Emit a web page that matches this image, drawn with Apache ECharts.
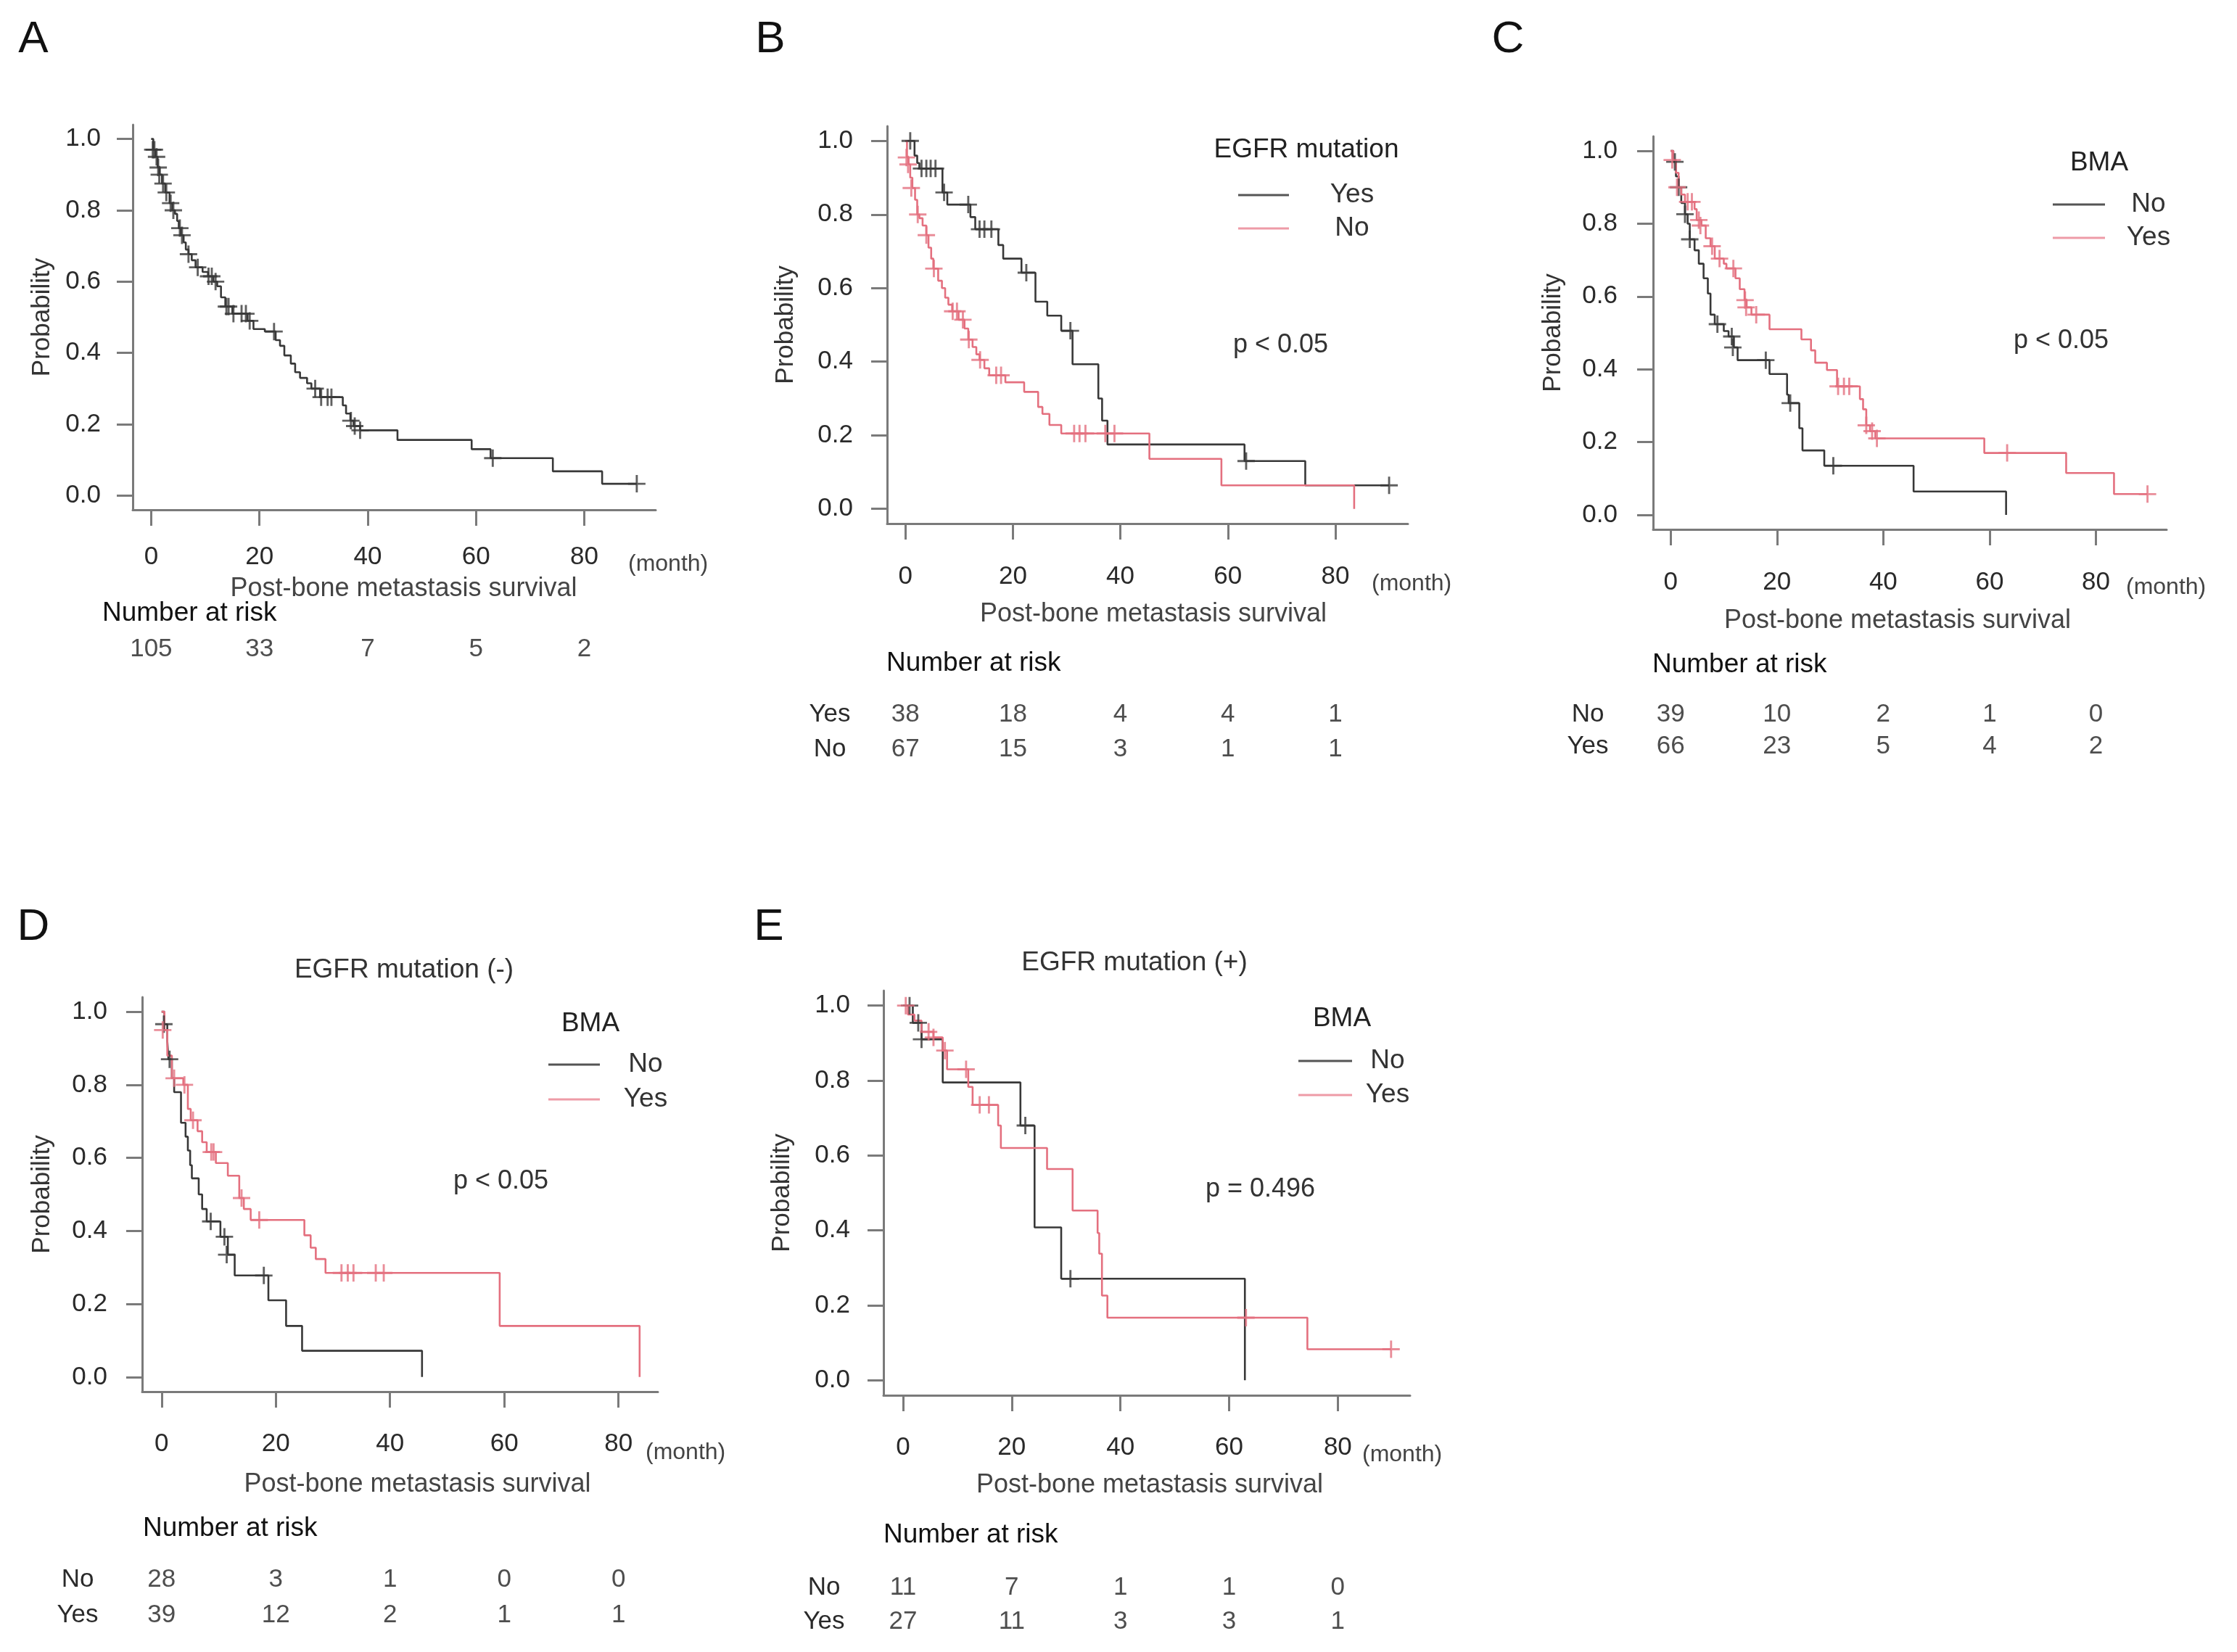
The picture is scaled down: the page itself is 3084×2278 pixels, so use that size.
<!DOCTYPE html>
<html><head><meta charset="utf-8">
<script src="https://cdn.jsdelivr.net/npm/echarts@6/dist/echarts.min.js"></script>
<style>html,body{margin:0;padding:0;background:#fff}#c{width:3084px;height:2278px}</style>
</head><body><div id="c"></div>
<script>
// ---------------- DATA ----------------
const xTicks = [0, 20, 40, 60, 80];
const yTicks = [0, 0.2, 0.4, 0.6, 0.8, 1.0];

// Panel A: all patients  [time (month), survival probability]
const aCurve = [[0,1],[0.4,0.97],[0.8,0.95],[1.2,0.92],[1.6,0.90],[2.0,0.875],[2.6,0.85],[3.4,0.82],[3.9,0.80],[4.4,0.79],[4.8,0.77],[5.1,0.75],[5.5,0.73],[6.0,0.71],[6.4,0.69],[6.9,0.677],[7.5,0.66],[8.2,0.64],[9.5,0.627],[10.5,0.615],[11.5,0.60],[12.2,0.587],[12.9,0.556],[13.7,0.53],[15.0,0.51],[17.8,0.49],[18.9,0.467],[21.0,0.46],[23.0,0.436],[23.8,0.42],[24.6,0.393],[25.8,0.37],[26.6,0.346],[27.5,0.33],[28.8,0.315],[29.6,0.30],[31.2,0.276],[35.4,0.253],[36.0,0.23],[36.8,0.21],[37.4,0.195],[38.6,0.183],[45.5,0.156],[59.2,0.13],[62.7,0.105],[74.2,0.068],[83.3,0.033],[89.7,0.033]];
const aCens = [[0.3,0.97],[0.6,0.97],[1.0,0.95],[1.3,0.92],[1.5,0.90],[2.2,0.875],[2.8,0.85],[3.6,0.82],[4.1,0.80],[5.3,0.75],[5.7,0.73],[6.9,0.677],[8.6,0.64],[10.6,0.615],[11.2,0.615],[11.9,0.60],[13.9,0.53],[14.3,0.53],[15.2,0.51],[16.7,0.51],[17.5,0.51],[18.2,0.49],[22.7,0.46],[30.3,0.30],[31.4,0.276],[32.6,0.276],[33.3,0.276],[36.9,0.21],[37.6,0.195],[38.6,0.183],[63.1,0.105],[89.7,0.033]];
const riskA = [105, 33, 7, 5, 2];

// Panel B: EGFR mutation Yes / No
const bYes = [[0,1],[1.7,0.96],[2.2,0.94],[2.6,0.925],[6.9,0.86],[7.8,0.827],[12.1,0.793],[13.0,0.76],[17.3,0.717],[18.2,0.68],[21.6,0.642],[24.2,0.563],[26.4,0.525],[29.0,0.484],[31.1,0.393],[35.9,0.30],[36.6,0.24],[37.6,0.175],[63.1,0.13],[74.4,0.064],[90.0,0.064]];
const bYesCens = [[0.9,1.0],[3.0,0.925],[3.9,0.925],[4.7,0.925],[5.6,0.925],[7.2,0.86],[11.7,0.827],[13.8,0.76],[14.7,0.76],[16.0,0.76],[22.5,0.642],[30.7,0.484],[63.4,0.13],[90.0,0.064]];
const bNo = [[0,1],[0.3,0.955],[0.6,0.936],[0.9,0.90],[1.3,0.872],[1.8,0.84],[2.2,0.80],[2.6,0.79],[3.2,0.77],[3.9,0.744],[4.3,0.71],[4.8,0.68],[5.2,0.653],[6.1,0.62],[6.8,0.60],[7.4,0.574],[8.0,0.555],[8.7,0.537],[9.9,0.514],[11.0,0.49],[11.7,0.46],[12.5,0.44],[13.2,0.42],[13.8,0.405],[14.7,0.382],[15.6,0.363],[18.6,0.344],[22.1,0.318],[24.7,0.277],[25.5,0.258],[26.8,0.228],[29.0,0.205],[45.4,0.136],[58.8,0.064],[83.5,0]];
const bNoCens = [[0.2,0.955],[0.5,0.936],[1.1,0.872],[2.3,0.80],[3.9,0.744],[5.3,0.653],[8.8,0.537],[9.6,0.537],[10.7,0.514],[11.8,0.46],[13.9,0.405],[16.9,0.363],[17.8,0.363],[31.4,0.205],[32.4,0.205],[33.5,0.205],[37.2,0.205],[38.9,0.205]];
const riskBYes = [38, 18, 4, 4, 1];
const riskBNo = [67, 15, 3, 1, 1];

// Panel C: BMA No / Yes
const cNo = [[0,1],[0.5,0.97],[1.0,0.93],[1.5,0.90],[2.0,0.857],[2.7,0.826],[3.2,0.80],[3.6,0.757],[4.5,0.727],[5.3,0.69],[6.2,0.65],[7.0,0.608],[7.5,0.55],[8.3,0.524],[10.0,0.505],[10.9,0.49],[11.9,0.46],[12.6,0.425],[18.6,0.387],[21.9,0.33],[22.2,0.307],[24.2,0.238],[24.8,0.177],[28.9,0.135],[45.7,0.064],[63.1,0]];
const cNoCens = [[0.8,0.97],[1.5,0.90],[2.7,0.826],[3.6,0.757],[8.8,0.524],[11.5,0.49],[11.7,0.46],[17.9,0.425],[22.5,0.307],[30.6,0.135]];
const cYes = [[0,1],[0.5,0.975],[1.0,0.94],[1.5,0.90],[2.0,0.88],[2.7,0.86],[4.5,0.84],[4.9,0.81],[5.8,0.795],[6.6,0.76],[7.5,0.738],[8.3,0.704],[10.0,0.69],[10.5,0.677],[12.2,0.65],[13.0,0.62],[13.9,0.59],[14.3,0.57],[15.2,0.55],[18.6,0.51],[24.6,0.482],[26.4,0.452],[27.2,0.418],[29.4,0.398],[31.3,0.353],[35.6,0.318],[36.2,0.29],[36.8,0.246],[37.5,0.23],[38.5,0.21],[59.0,0.17],[74.4,0.115],[83.4,0.057],[89.7,0.057]];
const cYesCens = [[0.3,0.975],[1.2,0.90],[3.2,0.86],[4.0,0.86],[5.3,0.81],[5.6,0.795],[7.8,0.738],[9.2,0.704],[11.8,0.677],[14.0,0.59],[14.2,0.57],[16.1,0.55],[31.5,0.353],[32.6,0.353],[33.6,0.353],[36.8,0.246],[37.9,0.23],[38.8,0.21],[63.3,0.17],[89.7,0.057]];
const riskCNo = [39, 10, 2, 1, 0];
const riskCYes = [66, 23, 5, 4, 2];

// Panel D: EGFR mutation (-), BMA No / Yes
const dNo = [[0,1],[0.5,0.966],[1.0,0.92],[1.2,0.87],[1.8,0.818],[2.2,0.78],[3.4,0.696],[4.2,0.658],[4.6,0.62],[5.0,0.58],[5.3,0.544],[6.5,0.50],[7.1,0.46],[7.9,0.426],[10.3,0.384],[11.6,0.335],[12.8,0.278],[18.7,0.21],[21.8,0.14],[24.6,0.072],[45.6,0]];
const dNoCens = [[0.4,0.966],[1.4,0.87],[8.6,0.426],[11.0,0.384],[11.4,0.335],[17.9,0.278]];
const dYes = [[0,1],[0.5,0.95],[1.0,0.88],[1.8,0.818],[3.8,0.80],[4.6,0.734],[5.1,0.703],[6.3,0.673],[7.1,0.643],[7.9,0.616],[9.5,0.586],[11.6,0.551],[13.6,0.49],[14.4,0.46],[15.6,0.43],[25.0,0.388],[26.1,0.354],[27.0,0.323],[28.7,0.285],[59.2,0.14],[83.7,0]];
const dYesCens = [[0.2,0.95],[2.2,0.818],[4.0,0.80],[5.5,0.703],[8.7,0.616],[9.1,0.616],[14.0,0.49],[17.1,0.43],[31.5,0.285],[32.6,0.285],[33.6,0.285],[37.5,0.285],[38.9,0.285]];
const riskDNo = [28, 3, 1, 0, 0];
const riskDYes = [39, 12, 2, 1, 1];

// Panel E: EGFR mutation (+), BMA No / Yes
const eNo = [[0,1],[1.8,0.954],[3.4,0.91],[7.3,0.795],[21.6,0.68],[24.2,0.408],[29.1,0.271],[62.9,0]];
const eNoCens = [[1.2,1.0],[2.8,0.954],[3.4,0.91],[22.5,0.68],[30.8,0.271]];
const eYes = [[0,1],[0.9,0.976],[2.1,0.96],[3.4,0.93],[5.6,0.915],[7.3,0.88],[8.1,0.83],[12.0,0.783],[12.8,0.735],[17.5,0.68],[18.0,0.62],[26.5,0.564],[31.2,0.453],[35.8,0.393],[36.1,0.338],[36.6,0.226],[37.6,0.167],[74.4,0.083],[89.8,0.083]];
const eYesCens = [[0.5,1.0],[4.7,0.93],[5.6,0.915],[7.7,0.88],[11.6,0.83],[14.1,0.735],[15.8,0.735],[63.1,0.167],[89.8,0.083]];
const riskENo = [11, 7, 1, 1, 0];
const riskEYes = [27, 11, 3, 3, 1];

// ---------------- STYLE / LAYOUT ----------------
const FONT = '"Liberation Sans", Arial, Helvetica, sans-serif';
const BLACK = '#383838', RED = '#e4707f';
const LEG_BLACK = '#555555', LEG_RED = '#ee9ba7';
const AXIS = '#7a7a7a';
const TXT = '#2a2a2a';
const CROSS = 'path://M-10,-1.2L10,-1.2L10,1.2L-10,1.2Z M-1.2,-10L1.2,-10L1.2,10L-1.2,10Z';

const panels = [
  { letter:'A', letterPos:[46,55], grid:[183,172,721,531], x:[-3.4,93.2],
    xLabelMargin:48, yLabelMargin:44, yNameGap:107, xNameGap:91, xNameShift:13,
    month:[866,778], nar:[141,846],
    curves:[{name:'All', data:aCurve, cens:aCens, color:BLACK}],
    riskTop:871, riskH:48, riskRows:[''], risk:[riskA], riskLabelMargin:0 },
  { letter:'B', letterPos:[1062,55], grid:[1223,174,718,548], x:[-3.4,93.5],
    xLabelMargin:56, yLabelMargin:47, yNameGap:122, xNameGap:107, xNameShift:8,
    month:[1891,805], nar:[1222,915],
    curves:[{name:'EGFR Yes', data:bYes, cens:bYesCens, color:BLACK},
            {name:'EGFR No', data:bNo, cens:bNoCens, color:RED}],
    riskTop:961, riskH:96, riskRows:['Yes','No'], risk:[riskBYes, riskBNo], riskLabelMargin:79,
    legend:{title:'EGFR mutation', titlePos:[1801,207], x1:1707, x2:1777, textX:1864,
            items:[['Yes',LEG_BLACK,269],['No',LEG_RED,315]]},
    p:['p < 0.05',1700,476] },
  { letter:'C', letterPos:[2079,55], grid:[2279,188,708,542], x:[-3.3,93.3],
    xLabelMargin:56, yLabelMargin:49, yNameGap:120, xNameGap:108, xNameShift:-17,
    month:[2931,810], nar:[2278,917],
    curves:[{name:'BMA No (all)', data:cNo, cens:cNoCens, color:BLACK},
            {name:'BMA Yes (all)', data:cYes, cens:cYesCens, color:RED}],
    riskTop:963, riskH:88, riskRows:['No','Yes'], risk:[riskCNo, riskCYes], riskLabelMargin:90,
    legend:{title:'BMA', titlePos:[2894,225], x1:2830, x2:2902, textX:2962,
            items:[['No',LEG_BLACK,282],['Yes',LEG_RED,328]]},
    p:['p < 0.05',2776,470] },
  { letter:'D', letterPos:[46,1279], grid:[196,1375,711,544], x:[-3.4,86.9],
    xLabelMargin:55, yLabelMargin:48, yNameGap:120, xNameGap:110, xNameShift:24,
    month:[890,2003], nar:[197,2108], title:['EGFR mutation (-)',557,1338],
    curves:[{name:'BMA No (EGFR-)', data:dNo, cens:dNoCens, color:BLACK},
            {name:'BMA Yes (EGFR-)', data:dYes, cens:dYesCens, color:RED}],
    riskTop:2154, riskH:98, riskRows:['No','Yes'], risk:[riskDNo, riskDYes], riskLabelMargin:89,
    legend:{title:'BMA', titlePos:[814,1412], x1:756, x2:827, textX:890,
            items:[['No',LEG_BLACK,1468],['Yes',LEG_RED,1516]]},
    p:['p < 0.05',625,1629] },
  { letter:'E', letterPos:[1060,1279], grid:[1218,1366,726,558], x:[-3.6,93.3],
    xLabelMargin:55, yLabelMargin:46, yNameGap:122, xNameGap:106, xNameShift:4,
    month:[1878,2006], nar:[1218,2117], title:['EGFR mutation (+)',1564,1328],
    curves:[{name:'BMA No (EGFR+)', data:eNo, cens:eNoCens, color:BLACK},
            {name:'BMA Yes (EGFR+)', data:eYes, cens:eYesCens, color:RED}],
    riskTop:2166, riskH:94, riskRows:['No','Yes'], risk:[riskENo, riskEYes], riskLabelMargin:82,
    legend:{title:'BMA', titlePos:[1850,1405], x1:1790, x2:1864, textX:1913,
            items:[['No',LEG_BLACK,1463],['Yes',LEG_RED,1510]]},
    p:['p = 0.496',1662,1640] }
];

function txt(text, x, y, size, color, align, extra) {
  return Object.assign({ type:'text', x:x, y:y, silent:true,
    style:{ text:text, fontSize:size, fontFamily:FONT, fill:color, align:align||'left', verticalAlign:'middle' } }, extra||{});
}

const grid = [], xAxis = [], yAxis = [], series = [], graphic = [];
panels.forEach(function(p){
  const gi = grid.length;
  grid.push({ left:p.grid[0], top:p.grid[1], width:p.grid[2], height:p.grid[3] });
  const sh = p.xNameShift;
  xAxis.push({ type:'value', gridIndex:gi, min:p.x[0], max:p.x[1],
    axisLine:{ show:true, onZero:false, lineStyle:{ color:AXIS, width:3 } },
    axisTick:{ show:true, customValues:xTicks, length:22, lineStyle:{ color:AXIS, width:3 } },
    axisLabel:{ show:true, customValues:xTicks, margin:p.xLabelMargin, fontSize:35, color:TXT, fontFamily:FONT },
    splitLine:{ show:false },
    name:'Post-bone metastasis survival', nameLocation:'middle', nameGap:p.xNameGap,
    nameTextStyle:{ fontSize:36, color:'#444', fontFamily:FONT,
      padding: sh >= 0 ? [0,0,0,2*sh] : [0,-2*sh,0,0] } });
  yAxis.push({ type:'value', gridIndex:gi, min:-0.04, max:1.04,
    axisLine:{ show:true, onZero:false, lineStyle:{ color:AXIS, width:3 } },
    axisTick:{ show:true, customValues:yTicks, length:22, lineStyle:{ color:AXIS, width:3 } },
    axisLabel:{ show:true, customValues:yTicks, formatter:function(v){ return Number(v).toFixed(1); },
      margin:p.yLabelMargin, fontSize:35, color:TXT, fontFamily:FONT },
    splitLine:{ show:false },
    name:'Probability', nameLocation:'middle', nameRotate:90, nameGap:p.yNameGap,
    nameTextStyle:{ fontSize:35, color:'#333', fontFamily:FONT } });
  p.curves.forEach(function(c){
    series.push({ type:'line', name:p.letter+': '+c.name, xAxisIndex:gi, yAxisIndex:gi, data:c.data,
      step:'end', symbol:'none', lineStyle:{ color:c.color, width:2.6 }, itemStyle:{ color:c.color }, z:3 });
    series.push({ type:'scatter', name:p.letter+': '+c.name+' censored', xAxisIndex:gi, yAxisIndex:gi, data:c.cens,
      symbol:CROSS, symbolSize:24, itemStyle:{ color:c.color }, z:4 });
  });
  // number-at-risk table as its own grid sharing the time scale
  const ri = grid.length;
  grid.push({ left:p.grid[0], top:p.riskTop, width:p.grid[2], height:p.riskH });
  xAxis.push({ type:'value', gridIndex:ri, min:p.x[0], max:p.x[1], show:false });
  yAxis.push({ type:'category', gridIndex:ri, data:p.riskRows, inverse:true,
    axisLine:{ show:false }, axisTick:{ show:false }, splitLine:{ show:false },
    axisLabel:{ interval:0, hideOverlap:false, margin:p.riskLabelMargin, align:'center', fontSize:35, color:TXT, fontFamily:FONT } });
  p.risk.forEach(function(row, r){
    series.push({ type:'scatter', name:p.letter+' at risk '+r, xAxisIndex:ri, yAxisIndex:ri,
      data: xTicks.map(function(t, j){ return [t, r, row[j]]; }),
      symbolSize:1, itemStyle:{ color:'rgba(0,0,0,0)' }, silent:true,
      label:{ show:true, position:'inside', formatter:function(q){ return String(q.value[2]); },
        fontSize:35, color:'#222', fontFamily:FONT } });
  });
  // texts
  graphic.push(txt(p.letter, p.letterPos[0], p.letterPos[1], 62, '#111', 'center'));
  graphic.push(txt('(month)', p.month[0], p.month[1], 32, '#444', 'left'));
  graphic.push(txt('Number at risk', p.nar[0], p.nar[1], 37, '#111', 'left'));
  if (p.title) graphic.push(txt(p.title[0], p.title[1], p.title[2], 37, '#333', 'center'));
  if (p.p) graphic.push(txt(p.p[0], p.p[1], p.p[2], 36, '#333', 'left'));
  if (p.legend) {
    const L = p.legend;
    graphic.push(txt(L.title, L.titlePos[0], L.titlePos[1], 37, '#222', 'center'));
    L.items.forEach(function(it){
      graphic.push({ type:'line', silent:true, shape:{ x1:L.x1, y1:it[2], x2:L.x2, y2:it[2] },
        style:{ stroke:it[1], lineWidth:3 } });
      graphic.push(txt(it[0], L.textX, it[2], 37, '#333', 'center'));
    });
  }
});

const chart = echarts.init(document.getElementById('c'), null, { renderer:'canvas' });
chart.setOption({
  backgroundColor:'#ffffff',
  animation:false,
  grid:grid, xAxis:xAxis, yAxis:yAxis, series:series, graphic:graphic
});
</script>
</body></html>
